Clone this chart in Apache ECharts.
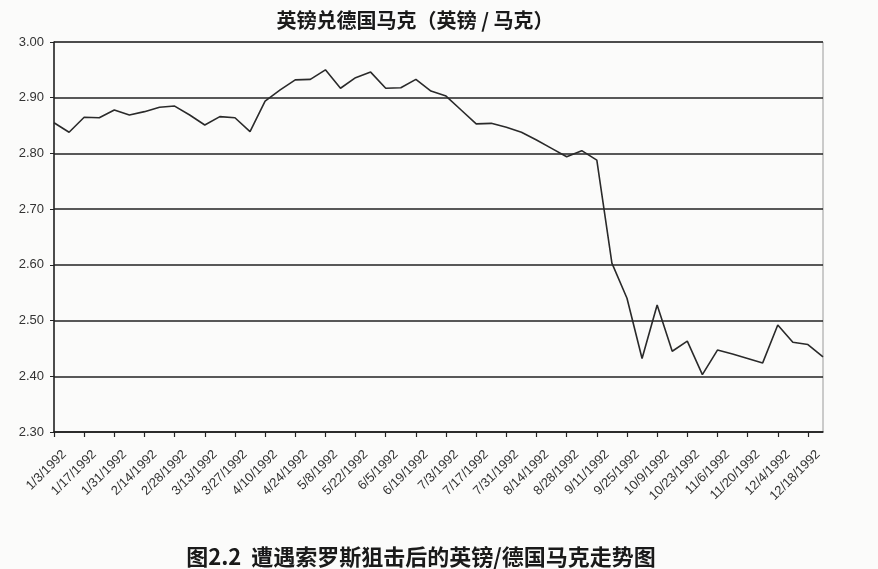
<!DOCTYPE html>
<html>
<head>
<meta charset="utf-8">
<script src="https://cdn.jsdelivr.net/npm/echarts@6/dist/echarts.min.js"></script>
<style>
html,body{margin:0;padding:0;background:#fbfbfa;}
#c{width:878px;height:569px;}
</style>
</head>
<body>
<div id="c"></div>
<script>
var dates = ['1/3/1992','1/10/1992','1/17/1992','1/24/1992','1/31/1992','2/7/1992','2/14/1992','2/21/1992','2/28/1992','3/6/1992','3/13/1992','3/20/1992','3/27/1992','4/3/1992','4/10/1992','4/17/1992','4/24/1992','5/1/1992','5/8/1992','5/15/1992','5/22/1992','5/29/1992','6/5/1992','6/12/1992','6/19/1992','6/26/1992','7/3/1992','7/10/1992','7/17/1992','7/24/1992','7/31/1992','8/7/1992','8/14/1992','8/21/1992','8/28/1992','9/4/1992','9/11/1992','9/18/1992','9/25/1992','10/2/1992','10/9/1992','10/16/1992','10/23/1992','10/30/1992','11/6/1992','11/13/1992','11/20/1992','11/27/1992','12/4/1992','12/11/1992','12/18/1992','12/25/1992'];
var gbpDem = [2.855,2.838,2.865,2.864,2.878,2.869,2.875,2.883,2.885,2.869,2.851,2.866,2.864,2.839,2.894,2.914,2.932,2.933,2.950,2.917,2.936,2.946,2.917,2.918,2.933,2.912,2.903,2.878,2.853,2.854,2.847,2.838,2.824,2.809,2.794,2.805,2.788,2.603,2.540,2.432,2.528,2.445,2.463,2.403,2.447,2.440,2.432,2.424,2.492,2.461,2.457,2.435];
var title = '英镑兑德国马克（英镑 / 马克）';
var caption = '图2.2  遭遇索罗斯狙击后的英镑/德国马克走势图';

var chart = echarts.init(document.getElementById('c'), null, {renderer:'canvas'});
chart.setOption({
  backgroundColor:'#fbfbfa',
  animation:false,
  title:[
    {text:title, left:410, top:5, textAlign:'center',
     textStyle:{fontFamily:'Noto Sans CJK SC', fontSize:20, fontWeight:'bold', color:'#1a1a1a'}},
    {text:caption, left:416, top:541, textAlign:'center',
     textStyle:{fontFamily:'Noto Sans CJK SC', fontSize:22, fontWeight:'bold', color:'#1a1a1a'}}
  ],
  grid:{left:54, right:55, top:42, bottom:137, show:true, borderColor:'#9a9a9a', borderWidth:1, backgroundColor:'transparent'},
  xAxis:{
    type:'category', data:dates, boundaryGap:false,
    axisLine:{lineStyle:{color:'#222', width:1.5}},
    axisTick:{interval:1, length:5, lineStyle:{color:'#222', width:1.2}},
    axisLabel:{interval:1, rotate:45, fontSize:13, color:'#333', margin:10,
      verticalAlign:'top', padding:[8,0,0,0],
      fontFamily:'Liberation Sans Narrow, Liberation Sans, Arial'},
    splitLine:{show:false}
  },
  yAxis:{
    type:'value', min:2.3, max:3.0, interval:0.1,
    axisLine:{show:true, lineStyle:{color:'#222', width:1.5}},
    axisTick:{show:true, length:4, lineStyle:{color:'#222'}},
    axisLabel:{fontSize:13, color:'#333', margin:10,
      fontFamily:'Liberation Sans, Arial',
      formatter:function(v){return v.toFixed(2);}},
    splitLine:{lineStyle:{color:'#222', width:1.5}}
  },
  series:[{
    type:'line', data:gbpDem, symbol:'none',
    lineStyle:{color:'#2a2a2a', width:1.6}
  }]
});
</script>
</body>
</html>
